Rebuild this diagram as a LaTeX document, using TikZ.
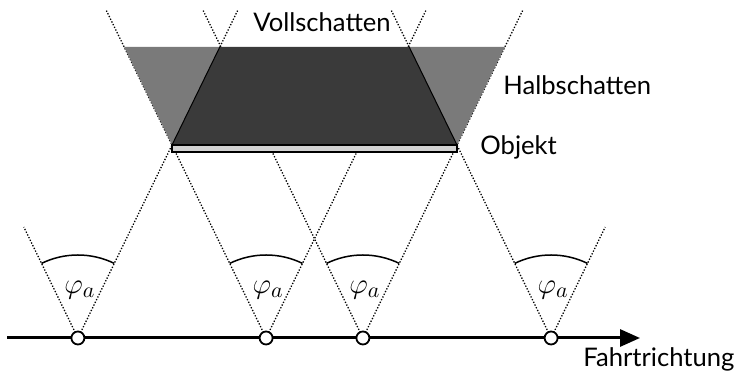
\documentclass[tikz,border=0pt]{standalone}
\usepackage{fontspec}
\setmainfont{Lato}
\usetikzlibrary{arrows.meta,calc}
\definecolor{halb}{HTML}{7A7A7A}
\definecolor{voll}{HTML}{3A3A3A}
\definecolor{objfill}{HTML}{D2D2D2}
\begin{document}
\begin{tikzpicture}[x=0.5pt,y=0.5pt,
  ray/.style={line width=0.65pt, dash pattern=on 0.65pt off 0.85pt},
  sensor/.style={circle, draw, fill=white, line width=0.9pt, minimum size=6.5pt, inner sep=0pt},
  anglearc/.style={line width=0.75pt},
  lbl/.style={font=\fontsize{12.8}{15}\selectfont, inner sep=0pt, anchor=base west},
  philbl/.style={font=\fontsize{15}{17}\selectfont, inner sep=0pt},
  axisline/.style={line width=1.5pt,-{Triangle[length=10pt,width=8.5pt]}}]
\useasboundingbox (0,0) rectangle (737,383);
% sensor positions
\coordinate (s1) at (77.9,45);
\coordinate (s2) at (266.1,45);
\coordinate (s3) at (362.9,45);
\coordinate (s4) at (551.1,45);
% ray ends
\coordinate (e1l) at (23.8,156);
\coordinate (e1r) at (237.9,373);
\coordinate (e2l) at (106.1,373);
\coordinate (e2r) at (426.1,373);
\coordinate (e3l) at (202.9,373);
\coordinate (e3r) at (522.9,373);
\coordinate (e4l) at (391.1,373);
\coordinate (e4r) at (605.2,156);
% shadow corners
\coordinate (al) at (172,238);
\coordinate (ar) at (457,238);
\coordinate (pl) at (124.2,336);
\coordinate (dl) at (219.8,336);
\coordinate (dr) at (409.2,336);
\coordinate (pr) at (504.8,336);
% rays
\draw[ray] (s1) -- (e1l);
\draw[ray] (s1) -- (e1r);
\draw[ray] (s2) -- (e2l);
\draw[ray] (s2) -- (e2r);
\draw[ray] (s3) -- (e3l);
\draw[ray] (s3) -- (e3r);
\draw[ray] (s4) -- (e4l);
\draw[ray] (s4) -- (e4r);
% shadows
\fill[halb] (al) -- (pl) -- (dl) -- cycle;
\fill[halb] (ar) -- (pr) -- (dr) -- cycle;
\fill[voll] (al) -- (dl) -- (dr) -- (ar) -- cycle;
\draw[line width=0.5pt] (al) -- (dl);
\draw[line width=0.5pt] (ar) -- (dr);
% object
\draw[fill=objfill, line width=1pt] (172,231) rectangle (457,238);
% angle arcs and labels
\foreach \s in {s1,s2,s3,s4}{
  \draw[anglearc] ($(\s)+(64:83)$) arc[start angle=64, end angle=116, radius=41.5pt];
}
\node[philbl] (p1) at ($(s1)+(2,48)$) {$\varphi_a$};
\node[philbl] (p2) at ($(s2)+(2,48)$) {$\varphi_a$};
\node[philbl] (p3) at ($(s3)+(2,48)$) {$\varphi_a$};
\node[philbl] (p4) at ($(s4)+(2,48)$) {$\varphi_a$};
% axis
\coordinate (ax0) at (7,45);
\coordinate (ax1) at (640,45);
\draw[axisline] (ax0) -- (ax1);
\node[sensor] (n1) at (s1) {};
\node[sensor] (n2) at (s2) {};
\node[sensor] (n3) at (s3) {};
\node[sensor] (n4) at (s4) {};
% labels
\node[lbl, anchor=base] (voll) at (322,351) {Vollschatten};
\node[lbl] (halb) at (503,288) {Halbschatten};
\node[lbl] (objekt) at (480,228) {Objekt};
\node[lbl] (fahrt) at (583,16) {Fahrtrichtung};
\end{tikzpicture}
\end{document}
